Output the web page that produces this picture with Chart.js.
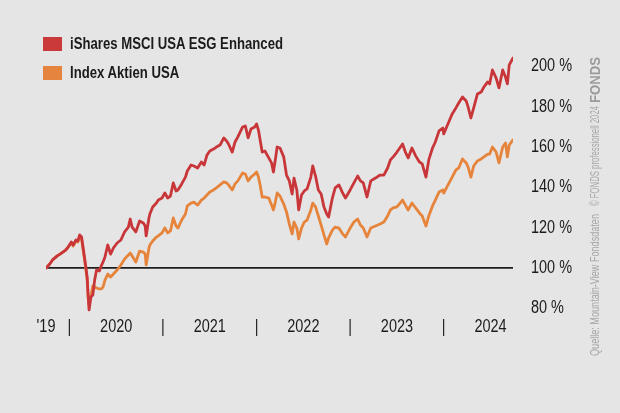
<!DOCTYPE html>
<html><head><meta charset="utf-8">
<script src="https://cdn.jsdelivr.net/npm/chart.js@4.4.1/dist/chart.umd.min.js"></script>
<style>
html,body{margin:0;padding:0;background:#e5e5e5;}
#wrap{position:relative;width:620px;height:413px;overflow:hidden;background:#e5e5e5;font-family:'Liberation Sans Narrow','Liberation Sans','Roboto',sans-serif;}
canvas{position:absolute;left:0;top:0;}
.leg{position:absolute;left:43px;height:14px;white-space:nowrap;}
.sw{position:absolute;left:0;top:0;width:19px;height:14px;}
.lt{position:absolute;left:27px;top:-4px;font-size:17px;line-height:22px;font-weight:bold;color:#1b1b1b;transform-origin:0 50%;display:inline-block;}
.src{position:absolute;transform-origin:0 0;white-space:nowrap;color:#a6a6a6;display:inline-block;}
</style></head>
<body><div id="wrap"><canvas id="c" width="620" height="413"></canvas>
<div class="leg" style="top:37px"><div class="sw" style="background:#cb3a3a"></div><span class="lt" id="l1"></span></div>
<div class="leg" style="top:66px"><div class="sw" style="background:#e5843f"></div><span class="lt" id="l2"></span></div>
<span class="src" id="s1" style="font-size:12px;line-height:12px;">Quelle: Mountain-View Fondsdaten</span>
<span class="src" id="s2" style="font-size:12px;line-height:12px;">© FONDS professionell 2024</span>
<span class="src" id="s3" style="font-size:15px;line-height:14px;font-weight:bold;color:#9a9a9a;">FONDS</span>
</div>
<script>
const seriesNames = ['iShares MSCI USA ESG Enhanced', 'Index Aktien USA'];
const dates = [
2019.75,2019.79,2019.82,2019.87,2019.90,2019.93,2019.96,2019.98,2020.02,2020.04,
2020.07,2020.09,2020.11,2020.13,2020.15,2020.17,2020.19,2020.20,2020.21,2020.23,
2020.25,2020.27,2020.29,2020.32,2020.34,2020.36,2020.38,2020.41,2020.44,2020.47,
2020.51,2020.55,2020.59,2020.63,2020.65,2020.67,2020.71,2020.75,2020.79,2020.81,
2020.82,2020.85,2020.86,2020.89,2020.93,2020.95,2020.99,2021.02,2021.05,2021.08,
2021.11,2021.14,2021.16,2021.20,2021.24,2021.26,2021.30,2021.33,2021.37,2021.41,
2021.44,2021.47,2021.50,2021.54,2021.57,2021.61,2021.65,2021.68,2021.70,2021.74,
2021.77,2021.80,2021.85,2021.88,2021.91,2021.94,2021.98,2022.00,2022.02,2022.04,
2022.06,2022.09,2022.13,2022.16,2022.18,2022.20,2022.22,2022.25,2022.29,2022.32,
2022.35,2022.38,2022.40,2022.43,2022.45,2022.48,2022.51,2022.54,2022.58,2022.60,
2022.63,2022.66,2022.69,2022.72,2022.75,2022.77,2022.81,2022.84,2022.88,2022.92,
2022.95,2023.00,2023.04,2023.08,2023.11,2023.14,2023.18,2023.22,2023.27,2023.32,
2023.36,2023.40,2023.43,2023.46,2023.50,2023.56,2023.59,2023.62,2023.66,2023.70,
2023.74,2023.77,2023.81,2023.84,2023.88,2023.91,2023.95,2023.99,2024.00,2024.04,
2024.09,2024.13,2024.16,2024.20,2024.24,2024.26,2024.29,2024.32,2024.36,2024.40,
2024.43,2024.47,2024.49,2024.52,2024.56,2024.59,2024.63,2024.66,2024.68,2024.70,2024.74];
const esgValues = [
100.0,102.0,104.0,106.0,106.9,107.9,108.9,109.9,112.9,111.4,
113.9,113.4,116.4,115.4,108.9,102.5,95.5,86.6,79.2,85.6,
86.6,94.0,99.0,98.5,101.0,103.0,105.5,111.4,106.9,109.9,
112.4,113.9,117.9,120.3,124.3,120.3,117.9,123.3,122.3,120.8,
115.9,124.8,126.8,130.3,132.2,133.7,134.7,137.2,134.7,135.7,
142.2,138.2,138.7,141.7,145.1,148.1,151.1,150.6,149.6,152.6,
151.1,156.0,158.0,159.0,160.0,161.0,164.5,163.0,161.5,157.5,
162.5,165.0,169.9,170.4,164.5,168.9,169.9,171.4,168.4,163.0,
157.5,158.0,154.6,152.1,147.6,153.6,160.0,159.5,155.1,146.1,
143.2,136.7,144.6,138.7,128.8,136.2,138.2,139.2,145.1,150.6,
145.6,138.7,136.7,130.3,126.8,125.3,134.7,139.7,141.2,137.2,
134.7,138.7,142.2,145.6,143.2,142.2,135.2,143.2,144.6,146.1,
146.1,149.6,153.6,155.1,157.5,161.5,157.5,154.6,159.5,155.6,
152.6,151.6,145.1,153.6,159.5,162.5,168.0,169.4,166.5,170.9,
176.4,179.4,181.8,184.8,182.8,179.9,174.4,179.4,186.3,187.3,
189.8,192.3,191.3,198.2,194.2,189.3,198.2,194.7,191.3,200.7,204.2];
const indexValues = [
100.0,102.0,104.0,106.0,106.9,107.9,108.9,109.9,112.4,110.9,
113.4,112.9,115.4,114.4,107.9,101.5,94.0,85.6,81.6,86.1,
91.1,90.6,90.1,89.6,89.6,90.6,94.0,97.0,95.5,97.0,
99.0,101.5,104.5,106.4,107.4,106.0,103.0,108.4,107.9,106.9,
101.5,109.9,111.4,113.4,115.4,115.9,117.4,119.8,117.4,118.4,
124.8,120.8,119.8,123.8,126.8,130.8,132.2,132.7,131.2,133.7,
134.7,136.2,137.7,138.7,139.7,141.2,142.7,142.2,141.2,138.7,
141.7,143.2,147.1,146.6,143.2,145.1,146.6,147.6,145.1,140.7,
135.2,135.2,134.7,131.2,128.8,132.7,137.2,135.7,131.7,127.8,
121.8,116.9,122.8,119.8,114.4,119.8,122.8,123.8,128.8,132.2,
130.3,125.8,121.3,116.4,111.9,114.9,118.8,120.3,119.8,116.9,
115.4,119.8,122.8,124.3,121.3,119.8,115.4,119.8,120.8,121.8,
122.8,125.8,128.8,129.8,130.3,133.7,131.2,128.8,132.2,129.8,
127.3,125.8,120.8,125.8,130.8,133.7,137.7,138.7,137.2,140.7,
145.1,148.6,149.6,154.1,152.1,150.1,145.1,150.6,153.1,154.1,
155.1,156.5,156.5,160.0,157.5,152.1,160.0,162.0,155.1,161.0,163.5];
const xTickValues = [2019.75, 2020, 2020.5, 2021, 2021.5, 2022, 2022.5, 2023, 2023.5, 2024, 2024.5];
const xTickLabels = ["'19", "|", "2020", "|", "2021", "|", "2022", "|", "2023", "|", "2024"];
const yTickValues = [80, 100, 120, 140, 160, 180, 200];

const FONT = "'Liberation Sans Narrow','Liberation Sans','Roboto',sans-serif";

// legend + source note (HTML text, horizontally condensed to mimic the narrow typeface)
function fit(el, target) {
  const w = el.getBoundingClientRect().width;
  return w > 0 ? target / w : 1;
}
const l1 = document.getElementById('l1'), l2 = document.getElementById('l2');
l1.textContent = seriesNames[0];
l2.textContent = seriesNames[1];
const kLeg = fit(l1, 213);
l1.style.transform = `scaleX(${kLeg})`;
l2.style.transform = `scaleX(${kLeg})`;
function placeSrc(id, left, bottom, len) {
  const el = document.getElementById(id);
  const k = fit(el, len);
  el.style.left = left + 'px';
  el.style.top = bottom + 'px';
  el.style.transform = `rotate(-90deg) scaleX(${k})`;
}
placeSrc('s1', 589, 356, 142);
placeSrc('s2', 589, 206, 100);
placeSrc('s3', 588, 103, 46);

const toPts = vals => vals.map((v, i) => ({x: dates[i], y: v}));

const condensedLabels = {
  id: 'condensedLabels',
  afterDraw(chart) {
    const ctx = chart.ctx;
    const xs = chart.scales.x, ys = chart.scales.y;
    ctx.save();
    ctx.fillStyle = '#1b1b1b';
    ctx.font = `18px ${FONT}`;
    const k = Math.min(1, 41 / ctx.measureText('200 %').width);
    ctx.textBaseline = 'middle';
    ctx.textAlign = 'left';
    ys.ticks.forEach(t => {
      const py = ys.getPixelForValue(t.value);
      ctx.save();
      ctx.translate(chart.chartArea.right + 18, py);
      ctx.scale(k, 1);
      ctx.fillText(t.value + ' %', 0, 0);
      ctx.restore();
    });
    ctx.textAlign = 'center';
    xs.ticks.forEach(t => {
      const i = xTickValues.indexOf(t.value);
      if (i < 0) return;
      const px = xs.getPixelForValue(t.value);
      ctx.save();
      ctx.translate(px, xs.top + 9);
      ctx.scale(k, 1);
      ctx.fillText(xTickLabels[i], 0, 0);
      ctx.restore();
    });
    ctx.restore();
  }
};

new Chart(document.getElementById('c'), {
  type: 'line',
  data: {
    datasets: [
      {label: seriesNames[0], data: toPts(esgValues), borderColor: '#c9363a', borderWidth: 2.8, pointRadius: 0, tension: 0, borderJoinStyle: 'round', borderCapStyle: 'round'},
      {label: seriesNames[1], data: toPts(indexValues), borderColor: '#e6843c', borderWidth: 2.8, pointRadius: 0, tension: 0, borderJoinStyle: 'round', borderCapStyle: 'round'}
    ]
  },
  plugins: [condensedLabels],
  options: {
    responsive: false,
    animation: false,
    events: [],
    layout: {padding: {left: 46, top: 46.2, right: 0, bottom: 0}},
    plugins: {legend: {display: false}, tooltip: {enabled: false}},
    scales: {
      x: {
        type: 'linear',
        min: dates[0],
        max: dates[dates.length - 1],
        grid: {display: false, drawTicks: false},
        border: {display: false},
        afterBuildTicks: s => { s.ticks = xTickValues.map(v => ({value: v})); },
        afterFit: s => { s.height = 413 - 318.4; },
        ticks: {display: false, autoSkip: false, maxRotation: 0}
      },
      y: {
        position: 'right',
        min: 75, max: 210,
        afterBuildTicks: s => { s.ticks = yTickValues.map(v => ({value: v})); },
        afterFit: s => { s.width = 107; },
        grid: {
          drawTicks: false,
          color: c => (c.tick && c.tick.value === 100) ? '#1e1e1e' : 'rgba(0,0,0,0)',
          lineWidth: c => (c.tick && c.tick.value === 100) ? 1.8 : 0
        },
        border: {display: false},
        ticks: {display: false}
      }
    }
  }
});
</script>
</body></html>
